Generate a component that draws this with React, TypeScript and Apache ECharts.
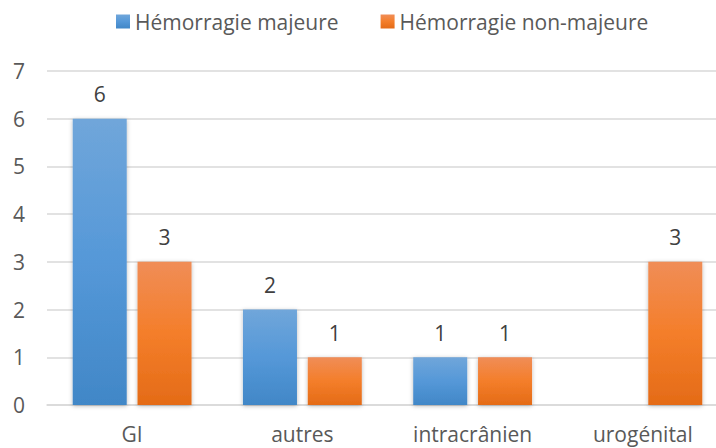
import React, { useEffect, useRef } from "react";
import * as echarts from "echarts";

const categories = ["GI", "autres", "intracrânien", "urogénital"];
const seriesNames = ["Hémorragie majeure", "Hémorragie non-majeure"];
const majeure: (number | null)[] = [6, 2, 1, null];
const nonMajeure: (number | null)[] = [3, 1, 1, 3];
const yTicks = { min: 0, max: 7, interval: 1 };

const FONT = "'Open Sans', 'DejaVu Sans', sans-serif";

function grad(top: string, mid: string, bottom: string) {
  return new echarts.graphic.LinearGradient(0, 0, 0, 1, [
    { offset: 0, color: top },
    { offset: 0.5, color: mid },
    { offset: 1, color: bottom },
  ]);
}

export default function App() {
  const ref = useRef<HTMLDivElement>(null);
  useEffect(() => {
    if (!ref.current) return;
    const chart = echarts.init(ref.current, null, { renderer: "svg" });
    const blue = grad("#70a6da", "#5598d8", "#4187c7");
    const orange = grad("#f08d57", "#f47e2a", "#e46b17");
    const shadow = {
      shadowColor: "rgba(0,0,0,0.28)",
      shadowBlur: 4,
      shadowOffsetY: 1,
    };
    const label = {
      show: true,
      position: "top" as const,
      distance: 14,
      fontSize: 21,
      fontFamily: FONT,
      color: "#404040",
    };
    chart.setOption({
      animation: false,
      textStyle: { fontFamily: FONT },
      legend: {
        left: 111,
        top: 6,
        icon: "rect",
        itemWidth: 14,
        itemHeight: 14,
        itemGap: 42,
        textStyle: { fontSize: 21, color: "#595959", fontFamily: FONT },
        itemStyle: { shadowBlur: 0, shadowOffsetY: 0 },
        data: seriesNames,
      },
      grid: { left: 47, right: 0, top: 71, bottom: 43, containLabel: false },
      xAxis: {
        type: "category",
        data: categories,
        axisTick: { show: false },
        axisLine: { lineStyle: { color: "#d9d9d9", width: 1.5 } },
        axisLabel: { fontSize: 21, color: "#595959", margin: 18, fontFamily: FONT },
      },
      yAxis: {
        type: "value",
        min: yTicks.min,
        max: yTicks.max,
        interval: yTicks.interval,
        axisLine: { show: false },
        axisTick: { show: false },
        axisLabel: { fontSize: 21, color: "#595959", margin: 22, fontFamily: FONT },
        splitLine: { lineStyle: { color: "#d9d9d9", width: 1.5 } },
      },
      series: [
        {
          name: seriesNames[0],
          type: "bar",
          data: majeure,
          barWidth: 54,
          barGap: "20%",
          itemStyle: { color: blue, ...shadow },
          label,
        },
        {
          name: seriesNames[1],
          type: "bar",
          data: nonMajeure,
          barWidth: 54,
          barGap: "20%",
          itemStyle: { color: orange, ...shadow },
          label,
        },
      ],
    });
    return () => chart.dispose();
  }, []);
  return (
    <div
      style={{ position: "absolute", left: 0, top: 0, width: 716, height: 448, overflow: "hidden", background: "#fff" }}
    >
      <div ref={ref} style={{ position: "absolute", left: 0, top: 0, width: 728, height: 448 }} />
    </div>
  );
}
